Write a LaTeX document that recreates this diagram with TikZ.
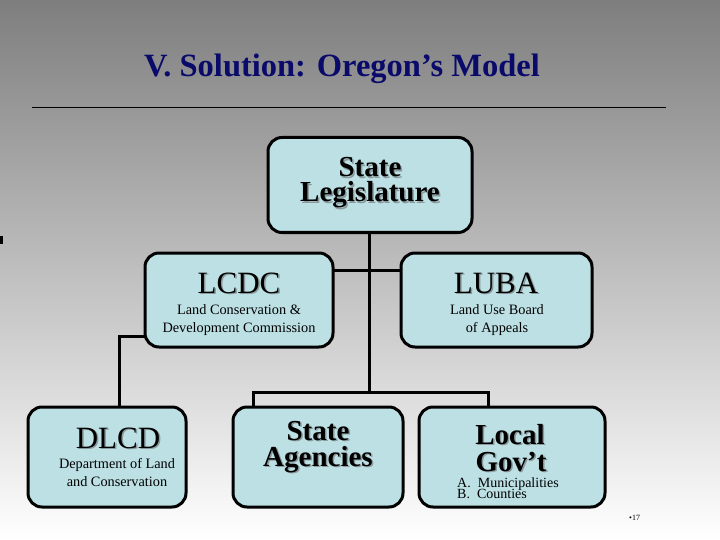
\documentclass[tikz,border=0pt]{standalone}
\usepackage{fontspec}
\setmainfont{Liberation Serif}
\definecolor{bgtop}{HTML}{7E7E7E}
\definecolor{boxfill}{HTML}{BCE0E4}
\definecolor{titleblue}{HTML}{0A0A6A}
\definecolor{shadowgray}{HTML}{8A9A9C}
\newcommand{\shtext}[4]{%
  \node[text=shadowgray, font=#3, anchor=base, inner sep=0pt] at ([shift={(1.5,1.5)}]#2) {#4};
  \node[font=#3, anchor=base, inner sep=0pt] (#1) at (#2) {#4};
}
\begin{document}
\begin{tikzpicture}[x=1pt,y=-1pt,
  orgbox/.style={draw=black, line width=3pt, rounded corners=14pt, fill=boxfill, inner sep=0pt},
  conn/.style={line width=3pt, line cap=rect},
  small/.style={font=\fontsize{14.3}{15}\selectfont}]
\shade[top color=bgtop, bottom color=white] (0,0) rectangle (720,540);
\useasboundingbox (0,0) rectangle (720,540);
\fill[black] (0,236) rectangle (3,244);

% title
\node[font=\fontsize{32.5}{34}\selectfont\bfseries, text=titleblue, anchor=base, inner sep=0pt] (title) at (342,77) {V. Solution: Oregon’s Model};
\draw[line width=1pt] (32,108) coordinate (rl) -- (666,108) coordinate (rr);

% boxes
\node[orgbox, minimum width=204pt, minimum height=95pt] (leg) at (370,185) {};
\node[orgbox, minimum width=188pt, minimum height=94pt] (lcdc) at (239,300) {};
\node[orgbox, minimum width=191pt, minimum height=94pt] (luba) at (496.5,300) {};
\node[orgbox, minimum width=158pt, minimum height=100pt] (dlcd) at (107,457) {};
\node[orgbox, minimum width=170pt, minimum height=100pt] (sa) at (318,457) {};
\node[orgbox, minimum width=186pt, minimum height=100pt] (lg) at (512,457) {};

% connectors
\coordinate (bar) at (369,392);
\coordinate (cross) at (369,270);
\draw[conn] (leg.south -| bar) -- (bar);
\draw[conn] (lcdc.east |- cross) -- (luba.west |- cross);
\draw[conn] (sa.north -| 253,0) |- (bar) -| (lg.north -| 488,0);
\draw[conn] (lcdc.west |- 0,336) -| (dlcd.north -| 119,0);

% texts
\shtext{legA}{370,177}{\fontsize{29}{30}\selectfont\bfseries}{State}
\shtext{legB}{370,202}{\fontsize{29}{30}\selectfont\bfseries}{Legislature}

\shtext{lcdcA}{239,293}{\fontsize{31}{33}\selectfont}{LCDC}
\node[small, anchor=base, inner sep=0pt] (lcdcB) at (239,314) {Land Conservation \&};
\node[small, anchor=base, inner sep=0pt] (lcdcC) at (239,332) {Development Commission};

\shtext{lubaA}{496,293}{\fontsize{31}{33}\selectfont}{LUBA}
\node[small, anchor=base, inner sep=0pt] (lubaB) at (497,314) {Land Use Board};
\node[small, anchor=base, inner sep=0pt] (lubaC) at (497,332) {of Appeals};

\shtext{dlcdA}{118,448}{\fontsize{31}{33}\selectfont}{DLCD}
\node[small, anchor=base, inner sep=0pt] (dlcdB) at (117,468) {Department of Land};
\node[small, anchor=base, inner sep=0pt] (dlcdC) at (117,486) {and Conservation};

\shtext{saA}{318,440}{\fontsize{29}{31}\selectfont\bfseries}{State}
\shtext{saB}{318,466}{\fontsize{29}{31}\selectfont\bfseries}{Agencies}

\shtext{lgA}{510,444}{\fontsize{29}{31}\selectfont\bfseries}{Local}
\shtext{lgB}{511,471}{\fontsize{29}{31}\selectfont\bfseries}{Gov’t}
\node[font=\fontsize{14}{14}\selectfont, anchor=base west, inner sep=0pt] (lgC) at (457,487) {A.\ \ Municipalities};
\node[font=\fontsize{14}{14}\selectfont, anchor=base west, inner sep=0pt] (lgD) at (457,498) {B.\ \ Counties};

\node[font=\fontsize{8}{9}\selectfont, anchor=base west, inner sep=0pt] (pg) at (629,520) {•17};
\end{tikzpicture}
\end{document}
